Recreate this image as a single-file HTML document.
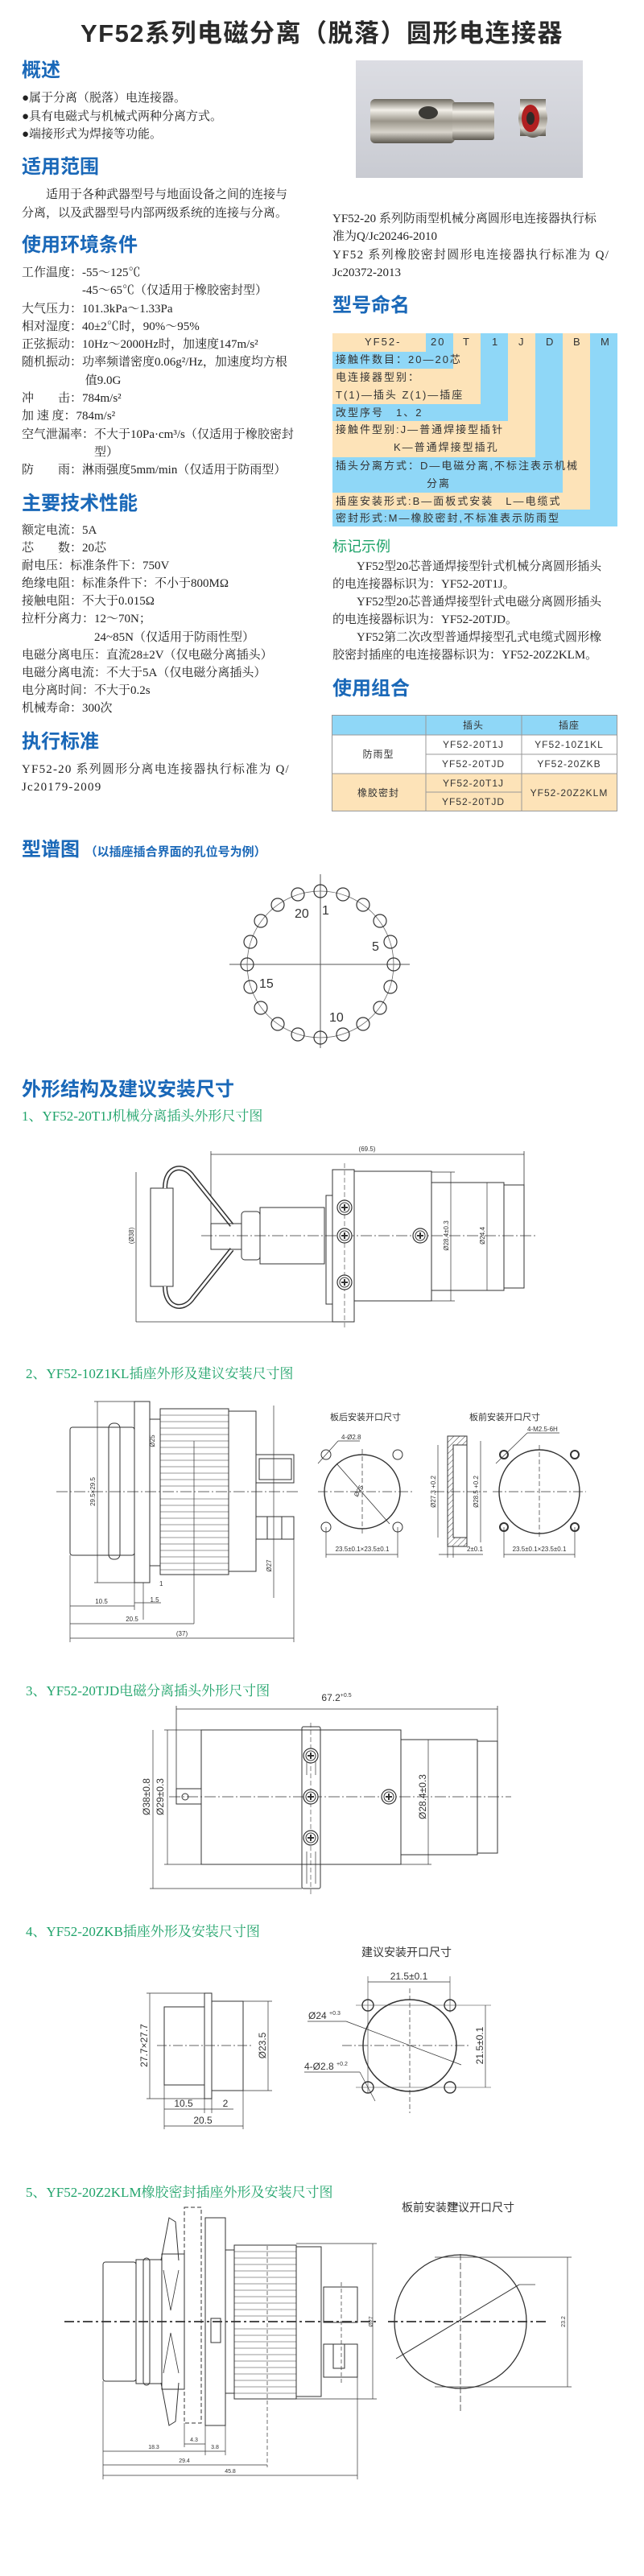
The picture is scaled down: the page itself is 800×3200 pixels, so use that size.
<!DOCTYPE html>
<html><head><meta charset="utf-8">
<style>
*{margin:0;padding:0;box-sizing:border-box}
body{width:800px;height:3200px;background:#fff;position:relative;overflow:hidden;font-family:"Liberation Serif","Noto Serif CJK SC",serif;color:#222}
.a{position:absolute;white-space:nowrap}
.h{position:absolute;font-family:"Liberation Sans","Noto Sans CJK SC",sans-serif;font-weight:bold;color:#1a68b8;font-size:24px;line-height:30px;white-space:nowrap}
.g{position:absolute;color:#1fa36a;font-size:17px;line-height:22px;white-space:nowrap}
.t{font-size:15px}
.n{position:absolute;font-family:"Liberation Sans","Noto Sans CJK SC",sans-serif;font-size:13px;letter-spacing:2px;color:#333;line-height:22px;white-space:nowrap}
svg text{font-family:"Liberation Sans",sans-serif;fill:#333}
</style></head><body>

<div class="a" style="left:0;width:800px;top:24px;text-align:center;font-family:'Liberation Sans','Noto Sans CJK SC',sans-serif;font-weight:bold;font-size:31px;line-height:36px;letter-spacing:1.5px;color:#2a2a2a">YF52系列电磁分离（脱落）圆形电连接器</div>

<!-- left column -->
<div class="h" style="left:27px;top:73px">概述</div>
<div class="a t" style="left:27px;top:111px;line-height:22.5px">●属于分离（脱落）电连接器。<br>●具有电磁式与机械式两种分离方式。<br>●端接形式为焊接等功能。</div>
<div class="h" style="left:27px;top:193px">适用范围</div>
<div class="a t" style="left:27px;top:231px;line-height:23px">　　适用于各种武器型号与地面设备之间的连接与<br>分离，以及武器型号内部两级系统的连接与分离。</div>
<div class="h" style="left:27px;top:290px">使用环境条件</div>
<div class="a t" style="left:27px;top:328px;line-height:22.3px">工作温度：-55～125℃<br>　　　　　-45～65℃（仅适用于橡胶密封型）<br>大气压力：101.3kPa～1.33Pa<br>相对湿度：40±2℃时，90%～95%<br>正弦振动：10Hz～2000Hz时，加速度147m/s²<br>随机振动：功率频谱密度0.06g²/Hz，加速度均方根<br>　　　　　 值9.0G<br>冲　　击：784m/s²<br>加 速 度：784m/s²<br>空气泄漏率：不大于10Pa·cm³/s（仅适用于橡胶密封<br>　　　　　　型）<br>防　　雨：淋雨强度5mm/min（仅适用于防雨型）</div>
<div class="h" style="left:27px;top:611px">主要技术性能</div>
<div class="a t" style="left:27px;top:648px;line-height:22.1px">额定电流：5A<br>芯　　数：20芯<br>耐电压：标准条件下：750V<br>绝缘电阻：标准条件下：不小于800MΩ<br>接触电阻：不大于0.015Ω<br>拉杆分离力：12～70N；<br>　　　　　　24~85N（仅适用于防雨性型）<br>电磁分离电压：直流28±2V（仅电磁分离插头）<br>电磁分离电流：不大于5A（仅电磁分离插头）<br>电分离时间：不大于0.2s<br>机械寿命：300次</div>
<div class="h" style="left:27px;top:907px">执行标准</div>
<div class="a t" style="left:27px;top:945px;line-height:22px;letter-spacing:1.2px">YF52-20 系列圆形分离电连接器执行标准为 Q/<br>Jc20179-2009</div>

<!-- photo -->
<svg class="a" style="left:442px;top:75px" width="282" height="146">
<defs>
<linearGradient id="bg" x1="0" y1="0" x2="0" y2="1"><stop offset="0" stop-color="#dcdde3"/><stop offset="1" stop-color="#c9cbd2"/></linearGradient>
<linearGradient id="mt" x1="0" y1="0" x2="0" y2="1"><stop offset="0" stop-color="#6e6a60"/><stop offset=".25" stop-color="#f2efe8"/><stop offset=".5" stop-color="#9a958a"/><stop offset=".75" stop-color="#d8d4cb"/><stop offset="1" stop-color="#5c584f"/></linearGradient>
</defs>
<rect width="282" height="146" fill="url(#bg)"/>
<rect x="18" y="48" width="105" height="55" rx="6" fill="url(#mt)"/>
<rect x="120" y="52" width="52" height="47" rx="3" fill="url(#mt)"/>
<ellipse cx="90" cy="65" rx="12" ry="8" fill="#3b3a36"/>
<rect x="204" y="48" width="32" height="46" fill="url(#mt)"/>
<ellipse cx="220" cy="72" rx="18" ry="24" fill="url(#mt)"/>
<ellipse cx="217" cy="72" rx="11" ry="17" fill="#b02020"/>
<ellipse cx="217" cy="72" rx="5" ry="8" fill="#2e2a28"/>
</svg>

<!-- right column -->
<div class="a t" style="left:413px;top:261px;line-height:22.3px">YF52-20 系列防雨型机械分离圆形电连接器执行标<br>准为Q/Jc20246-2010<br><span style="letter-spacing:1.3px">YF52 系列橡胶密封圆形电连接器执行标准为 Q/</span><br>Jc20372-2013</div>
<div class="h" style="left:413px;top:365px">型号命名</div>

<div class="a" style="left:413px;top:414px;width:354px;height:240px">
 <div class="a" style="left:320px;top:0;width:34px;height:240px;background:#8fd7f7"></div>
 <div class="a" style="left:286px;top:0;width:34px;height:219px;background:#fde3b8"></div>
 <div class="a" style="left:252px;top:0;width:34px;height:198px;background:#8fd7f7"></div>
 <div class="a" style="left:218px;top:0;width:34px;height:154px;background:#fde3b8"></div>
 <div class="a" style="left:184px;top:0;width:34px;height:109px;background:#8fd7f7"></div>
 <div class="a" style="left:150px;top:0;width:34px;height:88px;background:#fde3b8"></div>
 <div class="a" style="left:116px;top:0;width:34px;height:23px;background:#8fd7f7"></div>
 <div class="a" style="left:0;top:0;width:116px;height:23px;background:#fde3b8"></div>
 <div class="a" style="left:0;top:23px;width:150px;height:21px;background:#8fd7f7"></div>
 <div class="a" style="left:0;top:44px;width:184px;height:44px;background:#fde3b8"></div>
 <div class="a" style="left:0;top:88px;width:218px;height:21px;background:#8fd7f7"></div>
 <div class="a" style="left:0;top:109px;width:252px;height:45px;background:#fde3b8"></div>
 <div class="a" style="left:0;top:154px;width:286px;height:44px;background:#8fd7f7"></div>
 <div class="a" style="left:0;top:198px;width:320px;height:21px;background:#fde3b8"></div>
 <div class="a" style="left:0;top:219px;width:354px;height:21px;background:#8fd7f7"></div>
 <div class="n" style="left:40px;top:0">YF52-</div>
 <div class="n" style="left:122px;top:0">20</div>
 <div class="n" style="left:162px;top:0">T</div>
 <div class="n" style="left:198px;top:0">1</div>
 <div class="n" style="left:231px;top:0">J</div>
 <div class="n" style="left:265px;top:0">D</div>
 <div class="n" style="left:299px;top:0">B</div>
 <div class="n" style="left:333px;top:0">M</div>
 <div class="n" style="left:4px;top:22px">接触件数目：20—20芯</div>
 <div class="n" style="left:4px;top:44px">电连接器型别：</div>
 <div class="n" style="left:4px;top:66px">T(1)—插头 Z(1)—插座</div>
 <div class="n" style="left:4px;top:88px">改型序号　1、2</div>
 <div class="n" style="left:4px;top:109px">接触件型别:J—普通焊接型插针</div>
 <div class="n" style="left:76px;top:131px">K—普通焊接型插孔</div>
 <div class="n" style="left:4px;top:154px">插头分离方式：D—电磁分离,不标注表示机械</div>
 <div class="n" style="left:117px;top:176px">分离</div>
 <div class="n" style="left:4px;top:198px">插座安装形式:B—面板式安装　L—电缆式</div>
 <div class="n" style="left:4px;top:219px">密封形式:M—橡胶密封,不标准表示防雨型</div>
</div>

<div class="a" style="left:413px;top:667px;color:#1fa36a;font-size:18px;line-height:24px;font-family:'Liberation Sans','Noto Sans CJK SC',sans-serif">标记示例</div>
<div class="a t" style="left:413px;top:693px;line-height:22px">　　YF52型20芯普通焊接型针式机械分离圆形插头<br>的电连接器标识为：YF52-20T1J。<br>　　YF52型20芯普通焊接型针式电磁分离圆形插头<br>的电连接器标识为：YF52-20TJD。<br>　　YF52第二次改型普通焊接型孔式电缆式圆形橡<br>胶密封插座的电连接器标识为：YF52-20Z2KLM。</div>
<div class="h" style="left:413px;top:841px">使用组合</div>

<svg class="a" style="left:412px;top:888px" width="356" height="121">
<rect x="0" y="0" width="355" height="25" fill="#8fd7f7"/>
<rect x="0" y="73" width="355" height="47" fill="#fde3b8"/>
<g stroke="#999" fill="none">
<rect x=".5" y=".5" width="354" height="119"/>
<line x1="0" y1="25" x2="355" y2="25"/><line x1="0" y1="73" x2="355" y2="73"/>
<line x1="117" y1="49" x2="355" y2="49"/><line x1="117" y1="96" x2="236" y2="96"/>
<line x1="117" y1="0" x2="117" y2="120"/><line x1="236" y1="0" x2="236" y2="120"/>
</g>
<g font-size="12" text-anchor="middle" style="font-family:'Liberation Sans','Noto Sans CJK SC',sans-serif;letter-spacing:1px">
<text x="176" y="17">插头</text><text x="295" y="17">插座</text>
<text x="58" y="53">防雨型</text><text x="58" y="101">橡胶密封</text>
<text x="176" y="41">YF52-20T1J</text><text x="295" y="41">YF52-10Z1KL</text>
<text x="176" y="65">YF52-20TJD</text><text x="295" y="65">YF52-20ZKB</text>
<text x="176" y="89">YF52-20T1J</text><text x="176" y="112">YF52-20TJD</text>
<text x="295" y="101">YF52-20Z2KLM</text>
</g>
</svg>

<!-- lower headings -->
<div class="h" style="left:27px;top:1041px">型谱图 <span style="font-size:15px">（以插座插合界面的孔位号为例）</span></div>
<div class="h" style="left:27px;top:1339px">外形结构及建议安装尺寸</div>
<div class="g" style="left:27px;top:1376px">1、YF52-20T1J机械分离插头外形尺寸图</div>
<div class="g" style="left:32px;top:1696px">2、YF52-10Z1KL插座外形及建议安装尺寸图</div>
<div class="g" style="left:32px;top:2090px">3、YF52-20TJD电磁分离插头外形尺寸图</div>
<div class="g" style="left:32px;top:2389px">4、YF52-20ZKB插座外形及安装尺寸图</div>
<div class="g" style="left:32px;top:2713px">5、YF52-20Z2KLM橡胶密封插座外形及安装尺寸图</div>

<svg class="a" style="left:0;top:0" width="800" height="3200">
<defs>
<pattern id="hat" width="5" height="5" patternUnits="userSpaceOnUse" patternTransform="rotate(45)"><line x1="0" y1="0" x2="0" y2="5" stroke="#444" stroke-width="1"/></pattern>
<g id="scr"><circle r="9" fill="#fff" stroke="#333" stroke-width="1.2"/><circle r="6" fill="none" stroke="#333"/><path d="M-4 0H4M0-4V4" stroke="#333" stroke-width="2"/></g>
</defs>
<g stroke="#333" stroke-width="1" fill="none">
<!-- pin diagram -->
<line x1="285" y1="1198" x2="509" y2="1198" stroke="#555"/>
<line x1="398" y1="1086" x2="398" y2="1302" stroke="#555"/>
<circle cx="398" cy="1198" r="91" stroke="#666" stroke-width=".8"/>
<g stroke-width="1.2">
<ellipse cx="398" cy="1107" rx="8" ry="8"/><ellipse cx="426" cy="1111" rx="8" ry="8"/><ellipse cx="451" cy="1124" rx="8" ry="8"/><ellipse cx="472" cy="1144" rx="8" ry="8"/><ellipse cx="485" cy="1170" rx="8" ry="8"/>
<ellipse cx="489" cy="1198" rx="8" ry="8"/><ellipse cx="485" cy="1226" rx="8" ry="8"/><ellipse cx="472" cy="1252" rx="8" ry="8"/><ellipse cx="451" cy="1272" rx="8" ry="8"/><ellipse cx="426" cy="1285" rx="8" ry="8"/>
<ellipse cx="398" cy="1289" rx="8" ry="8"/><ellipse cx="370" cy="1285" rx="8" ry="8"/><ellipse cx="345" cy="1272" rx="8" ry="8"/><ellipse cx="324" cy="1252" rx="8" ry="8"/><ellipse cx="311" cy="1226" rx="8" ry="8"/>
<ellipse cx="307" cy="1198" rx="8" ry="8"/><ellipse cx="311" cy="1170" rx="8" ry="8"/><ellipse cx="324" cy="1144" rx="8" ry="8"/><ellipse cx="345" cy="1124" rx="8" ry="8"/><ellipse cx="370" cy="1111" rx="8" ry="8"/>
</g>

<!-- drawing 1 -->
<line x1="262" y1="1434" x2="651" y2="1434" stroke-width=".8"/>
<line x1="262" y1="1430" x2="262" y2="1520" stroke-width=".8"/><line x1="651" y1="1430" x2="651" y2="1472" stroke-width=".8"/>
<rect x="187" y="1476" width="28" height="122"/>
<path d="M205 1476C205 1448 228 1444 240 1462L288 1522M205 1598C205 1626 228 1630 240 1612L288 1552" stroke-width="6"/>
<path d="M205 1476C205 1448 228 1444 240 1462L288 1522M205 1598C205 1626 228 1630 240 1612L288 1552" stroke="#fff" stroke-width="3"/>
<rect x="262" y="1520" width="38" height="32"/>
<rect x="300" y="1505" width="23" height="60" rx="4"/>
<rect x="323" y="1500" width="80" height="70"/>
<rect x="405" y="1485" width="8" height="135"/>
<rect x="413" y="1453" width="27" height="189"/>
<rect x="440" y="1455" width="96" height="161"/>
<rect x="536" y="1469" width="90" height="134"/>
<rect x="626" y="1472" width="25" height="128"/>
<line x1="560" y1="1456" x2="560" y2="1616" stroke-width=".7"/><line x1="536" y1="1456" x2="565" y2="1456" stroke-width=".7"/><line x1="536" y1="1616" x2="565" y2="1616" stroke-width=".7"/>
<line x1="605" y1="1469" x2="605" y2="1603" stroke-width=".7"/>
<line x1="169" y1="1456" x2="169" y2="1642" stroke-width=".8"/><line x1="169" y1="1642" x2="420" y2="1642" stroke-width=".8"/>
<line x1="250" y1="1535" x2="665" y2="1535" stroke-dasharray="14 3 2 3" stroke-width=".8"/>
<line x1="428" y1="1445" x2="428" y2="1650" stroke-dasharray="6 3" stroke-width=".6"/>

<!-- drawing 2 -->
<rect x="87" y="1773" width="80" height="159" rx="3"/>
<rect x="135" y="1768" width="14" height="169" rx="6"/>
<rect x="167" y="1741" width="19" height="225"/>
<rect x="186" y="1763" width="13" height="182"/>
<rect x="199" y="1750" width="85" height="206"/>
<g stroke-width=".6">
<path d="M199 1758H284M199 1766H284M199 1774H284M199 1782H284M199 1790H284M199 1798H284M199 1806H284M199 1814H284M199 1822H284M199 1830H284M199 1838H284M199 1846H284M199 1862H284M199 1870H284M199 1878H284M199 1886H284M199 1894H284M199 1902H284M199 1910H284M199 1918H284M199 1926H284M199 1934H284M199 1942H284M199 1950H284"/>
</g>
<rect x="284" y="1753" width="34" height="199"/>
<rect x="318" y="1807" width="47" height="35"/><rect x="322" y="1812" width="40" height="26"/>
<rect x="318" y="1884" width="47" height="28"/><rect x="332" y="1884" width="18" height="28"/>
<line x1="70" y1="1853" x2="370" y2="1853" stroke-dasharray="14 3 2 3" stroke-width=".8"/>
<line x1="121" y1="1741" x2="121" y2="1966" stroke-width=".7"/><line x1="117" y1="1741" x2="167" y2="1741" stroke-width=".7"/><line x1="117" y1="1966" x2="167" y2="1966" stroke-width=".7"/>
<line x1="340" y1="1746" x2="340" y2="1985" stroke-width=".7"/>
<line x1="87" y1="1932" x2="87" y2="2040" stroke-width=".7"/><line x1="167" y1="1966" x2="167" y2="2000" stroke-width=".7"/><line x1="178" y1="1966" x2="178" y2="2012" stroke-width=".7"/><line x1="241" y1="1790" x2="241" y2="2017" stroke-width=".7"/><line x1="365" y1="1912" x2="365" y2="2040" stroke-width=".7"/>
<line x1="87" y1="1995" x2="167" y2="1995" stroke-width=".7"/><line x1="87" y1="2017" x2="241" y2="2017" stroke-width=".7"/><line x1="87" y1="2035" x2="365" y2="2035" stroke-width=".7"/>
<line x1="167" y1="1991" x2="200" y2="1991" stroke-width=".7"/>
<!-- mid 2 -->
<ellipse cx="450" cy="1853" rx="47" ry="46" stroke-width="1.4"/>
<line x1="395" y1="1853" x2="515" y2="1853" stroke-dasharray="12 3 2 3" stroke-width=".7"/>
<line x1="450" y1="1800" x2="450" y2="1905" stroke-dasharray="6 3" stroke-width=".7"/>
<line x1="418" y1="1818" x2="484" y2="1893" stroke-width=".8"/>
<circle cx="405" cy="1807" r="6"/><circle cx="494" cy="1807" r="6"/><circle cx="405" cy="1897" r="6"/><circle cx="494" cy="1897" r="6"/>
<line x1="395" y1="1818" x2="420" y2="1790" stroke-width=".7"/><line x1="420" y1="1790" x2="447" y2="1790" stroke-width=".7"/>
<line x1="405" y1="1897" x2="405" y2="1935" stroke-width=".7"/><line x1="494" y1="1897" x2="494" y2="1935" stroke-width=".7"/><line x1="405" y1="1931" x2="494" y2="1931" stroke-width=".7"/>
<rect x="556" y="1784" width="24" height="137" fill="url(#hat)"/>
<rect x="563" y="1795" width="17" height="115" fill="#fff"/>
<line x1="544" y1="1795" x2="544" y2="1910" stroke-width=".7"/><line x1="597" y1="1790" x2="597" y2="1916" stroke-width=".7"/>
<line x1="540" y1="1853" x2="605" y2="1853" stroke-dasharray="12 3 2 3" stroke-width=".7"/>
<line x1="556" y1="1921" x2="556" y2="1935" stroke-width=".7"/><line x1="563" y1="1921" x2="563" y2="1935" stroke-width=".7"/><line x1="545" y1="1931" x2="600" y2="1931" stroke-width=".7"/>
<ellipse cx="670" cy="1853" rx="50" ry="52" stroke-width="1.4"/>
<line x1="612" y1="1853" x2="728" y2="1853" stroke-dasharray="12 3 2 3" stroke-width=".7"/>
<line x1="670" y1="1795" x2="670" y2="1910" stroke-dasharray="6 3" stroke-width=".7"/>
<circle cx="626" cy="1807" r="5" stroke-width="2"/><circle cx="714" cy="1807" r="5" stroke-width="2"/><circle cx="626" cy="1897" r="5" stroke-width="2"/><circle cx="714" cy="1897" r="5" stroke-width="2"/>
<line x1="616" y1="1818" x2="655" y2="1780" stroke-width=".7"/><line x1="655" y1="1780" x2="695" y2="1780" stroke-width=".7"/>
<line x1="626" y1="1897" x2="626" y2="1935" stroke-width=".7"/><line x1="714" y1="1897" x2="714" y2="1935" stroke-width=".7"/><line x1="626" y1="1931" x2="714" y2="1931" stroke-width=".7"/>

<!-- drawing 3 -->
<line x1="219" y1="2123" x2="618" y2="2123" stroke-width=".8"/>
<line x1="219" y1="2119" x2="219" y2="2225" stroke-width=".8"/><line x1="618" y1="2119" x2="618" y2="2163" stroke-width=".8"/>
<rect x="219" y="2222" width="31" height="19"/><circle cx="230" cy="2232" r="4"/>
<rect x="250" y="2149" width="248" height="167"/>
<rect x="375" y="2145" width="23" height="201" rx="2"/>
<line x1="381" y1="2180" x2="381" y2="2205" stroke-width=".7"/><line x1="392" y1="2180" x2="392" y2="2205" stroke-width=".7"/>
<line x1="381" y1="2300" x2="381" y2="2340" stroke-width=".7"/><line x1="392" y1="2300" x2="392" y2="2340" stroke-width=".7"/>
<rect x="498" y="2161" width="95" height="143"/>
<rect x="593" y="2163" width="25" height="139"/>
<line x1="190" y1="2149" x2="190" y2="2346" stroke-width=".7"/><line x1="186" y1="2346" x2="375" y2="2346" stroke-width=".7"/>
<line x1="208" y1="2149" x2="208" y2="2316" stroke-width=".7"/><line x1="204" y1="2149" x2="250" y2="2149" stroke-width=".7"/><line x1="204" y1="2316" x2="250" y2="2316" stroke-width=".7"/>
<line x1="532" y1="2161" x2="532" y2="2316" stroke-width=".7"/><line x1="498" y1="2316" x2="536" y2="2316" stroke-width=".7"/>
<line x1="210" y1="2232" x2="635" y2="2232" stroke-dasharray="14 3 2 3" stroke-width=".8"/>
<line x1="386" y1="2140" x2="386" y2="2355" stroke-dasharray="6 3" stroke-width=".6"/>

<!-- drawing 4 -->
<rect x="204" y="2493" width="50" height="97"/>
<rect x="254" y="2476" width="9" height="131"/>
<rect x="263" y="2486" width="39" height="111"/>
<line x1="195" y1="2541" x2="315" y2="2541" stroke-dasharray="12 3 2 3" stroke-width=".7"/>
<line x1="186" y1="2476" x2="186" y2="2607" stroke-width=".7"/><line x1="182" y1="2476" x2="254" y2="2476" stroke-width=".7"/><line x1="182" y1="2607" x2="254" y2="2607" stroke-width=".7"/>
<line x1="333" y1="2486" x2="333" y2="2597" stroke-width=".7"/><line x1="302" y1="2486" x2="338" y2="2486" stroke-width=".7"/><line x1="302" y1="2597" x2="338" y2="2597" stroke-width=".7"/>
<line x1="204" y1="2590" x2="204" y2="2645" stroke-width=".7"/><line x1="254" y1="2607" x2="254" y2="2625" stroke-width=".7"/><line x1="263" y1="2607" x2="263" y2="2625" stroke-width=".7"/><line x1="302" y1="2597" x2="302" y2="2645" stroke-width=".7"/>
<line x1="204" y1="2620" x2="290" y2="2620" stroke-width=".7"/><line x1="204" y1="2641" x2="302" y2="2641" stroke-width=".7"/>
<ellipse cx="509" cy="2541" rx="58" ry="57" stroke-width="1.5"/>
<ellipse cx="457" cy="2491" rx="7" ry="7" stroke-width="1.4"/><ellipse cx="559" cy="2491" rx="7" ry="7" stroke-width="1.4"/><ellipse cx="457" cy="2593" rx="7" ry="7" stroke-width="1.4"/><ellipse cx="559" cy="2593" rx="7" ry="7" stroke-width="1.4"/>
<line x1="425" y1="2541" x2="585" y2="2541" stroke-dasharray="12 3 2 3" stroke-width=".7"/>
<line x1="509" y1="2470" x2="509" y2="2625" stroke-dasharray="6 3" stroke-width=".7"/>
<line x1="442" y1="2491" x2="610" y2="2491" stroke-width=".6"/><line x1="442" y1="2593" x2="610" y2="2593" stroke-width=".6"/>
<line x1="457" y1="2455" x2="457" y2="2600" stroke-width=".6"/><line x1="559" y1="2455" x2="559" y2="2500" stroke-width=".6"/>
<line x1="457" y1="2462" x2="559" y2="2462" stroke-width=".7"/>
<line x1="603" y1="2491" x2="603" y2="2593" stroke-width=".7"/>
<line x1="382" y1="2511" x2="430" y2="2511" stroke-width=".7"/><line x1="430" y1="2511" x2="573" y2="2565" stroke-width=".7"/>
<line x1="378" y1="2574" x2="447" y2="2574" stroke-width=".7"/><line x1="447" y1="2574" x2="466" y2="2610" stroke-width=".7"/>

<!-- drawing 5 -->
<rect x="128" y="2810" width="41" height="148" rx="3"/>
<rect x="178" y="2805" width="8" height="158" rx="4"/>
<rect x="169" y="2807" width="32" height="154"/>
<path d="M200 2808L210 2755L218 2760L222 2808M200 2960L210 3013L218 3008L222 2960" stroke-width="1"/>
<path d="M203 2820L212 2870L222 2820M203 2948L212 2898L222 2948" stroke-width=".8"/>
<rect x="201" y="2800" width="28" height="168"/>
<rect x="229" y="2742" width="21" height="268" stroke-dasharray="5 3"/>
<rect x="255" y="2755" width="25" height="258"/>
<rect x="262" y="2880" width="12" height="30"/>
<rect x="280" y="2795" width="11" height="178"/>
<rect x="291" y="2789" width="77" height="191"/>
<path d="M291 2797H368M291 2805H368M291 2813H368M291 2821H368M291 2829H368M291 2837H368M291 2845H368M291 2853H368M291 2861H368M291 2869H368M291 2877H368M291 2893H368M291 2901H368M291 2909H368M291 2917H368M291 2925H368M291 2933H368M291 2941H368M291 2949H368M291 2957H368M291 2965H368M291 2973H368" stroke-width=".6"/>
<rect x="368" y="2791" width="31" height="186"/>
<rect x="402" y="2841" width="42" height="44"/><rect x="402" y="2912" width="42" height="41"/><rect x="414" y="2912" width="14" height="30"/>
<line x1="80" y1="2884" x2="470" y2="2884" stroke-dasharray="12 4 3 4" stroke-width="1.8"/>
<line x1="332" y1="2790" x2="332" y2="3065" stroke-dasharray="5 3" stroke-width=".7"/>
<line x1="424" y1="2835" x2="424" y2="2960" stroke-dasharray="5 3" stroke-width=".7"/>
<line x1="463" y1="2787" x2="463" y2="2980" stroke-width=".7"/><line x1="368" y1="2787" x2="468" y2="2787" stroke-width=".7"/><line x1="368" y1="2980" x2="468" y2="2980" stroke-width=".7"/>
<line x1="128" y1="2958" x2="128" y2="3080" stroke-width=".7"/><line x1="229" y1="3010" x2="229" y2="3040" stroke-width=".7"/><line x1="255" y1="3013" x2="255" y2="3050" stroke-width=".7"/><line x1="280" y1="3013" x2="280" y2="3050" stroke-width=".7"/><line x1="444" y1="2953" x2="444" y2="3080" stroke-width=".7"/>
<line x1="229" y1="3036" x2="255" y2="3036" stroke-width=".7"/>
<line x1="128" y1="3045" x2="255" y2="3045" stroke-width=".7"/><line x1="255" y1="3045" x2="280" y2="3045" stroke-width=".7"/>
<line x1="128" y1="3062" x2="332" y2="3062" stroke-width=".7"/><line x1="128" y1="3075" x2="444" y2="3075" stroke-width=".7"/>
<ellipse cx="572" cy="2884" rx="82" ry="83" stroke-width="1.3"/>
<line x1="482" y1="2884" x2="678" y2="2884" stroke-dasharray="12 4 3 4" stroke-width="1.8"/>
<line x1="572" y1="2800" x2="572" y2="2998" stroke-dasharray="8 3" stroke-width=".8"/>
<line x1="492" y1="2930" x2="645" y2="2838" stroke-width="1"/><line x1="645" y1="2838" x2="665" y2="2838" stroke-width=".7"/>
<line x1="540" y1="2804" x2="710" y2="2804" stroke-width=".7"/><line x1="540" y1="2965" x2="710" y2="2965" stroke-width=".7"/><line x1="705" y1="2804" x2="705" y2="2965" stroke-width=".7"/>
</g>
<use href="#scr" x="428" y="1500"/><use href="#scr" x="428" y="1535"/><use href="#scr" x="428" y="1593"/><use href="#scr" x="522" y="1535"/>
<use href="#scr" x="386" y="2181"/><use href="#scr" x="386" y="2232"/><use href="#scr" x="386" y="2283"/><use href="#scr" x="483" y="2232"/>

<g font-size="16" fill="#555">
<text x="366" y="1140">20</text><text x="400" y="1136">1</text><text x="462" y="1181">5</text><text x="322" y="1227">15</text><text x="409" y="1269">10</text>
</g>
<g font-size="8">
<text x="456" y="1430" text-anchor="middle">(69.5)</text>
<text transform="translate(166,1535) rotate(-90)" text-anchor="middle">(Ø38)</text>
<text transform="translate(557,1535) rotate(-90)" text-anchor="middle">Ø28.4±0.3</text>
<text transform="translate(602,1535) rotate(-90)" text-anchor="middle">Ø24.4</text>
<text transform="translate(118,1853) rotate(-90)" text-anchor="middle">29.5×29.5</text>
<text transform="translate(337,1945) rotate(-90)" text-anchor="middle">Ø27</text>
<text transform="translate(192,1790) rotate(-90)" text-anchor="middle">Ø25</text>
<text x="126" y="1992" text-anchor="middle">10.5</text><text x="192" y="1990" text-anchor="middle">1.5</text><text x="198" y="1970">1</text>
<text x="164" y="2014" text-anchor="middle">20.5</text><text x="226" y="2032" text-anchor="middle">(37)</text>
<text x="450" y="1927" text-anchor="middle">23.5±0.1×23.5±0.1</text>
<text x="670" y="1927" text-anchor="middle">23.5±0.1×23.5±0.1</text>
<text x="580" y="1927">2±0.1</text>
<text x="424" y="1788">4-Ø2.8</text><text x="655" y="1778">4-M2.5-6H</text>
<text transform="translate(444,1860) rotate(-60)">Ø25</text>
<text transform="translate(541,1853) rotate(-90)" text-anchor="middle">Ø27.3 +0.2</text>
<text transform="translate(594,1853) rotate(-90)" text-anchor="middle">Ø28.5 +0.2</text>
<text x="556" y="2741" font-size="7">Ø24</text>
<text transform="translate(463,2884) rotate(-90)" text-anchor="middle" font-size="7">Ø27</text>
<text transform="translate(702,2884) rotate(-90)" text-anchor="middle" font-size="7">23.2</text>
<text x="191" y="3042" text-anchor="middle" font-size="7">18.3</text><text x="267" y="3042" text-anchor="middle" font-size="7">3.8</text><text x="241" y="3033" text-anchor="middle" font-size="7">4.3</text>
<text x="229" y="3059" text-anchor="middle" font-size="7">29.4</text><text x="286" y="3072" text-anchor="middle" font-size="7">45.8</text>
</g>
<g font-size="12" fill="#555">
<text x="418" y="2113" text-anchor="middle">67.2<tspan font-size="7" dy="-5">+0.5</tspan></text>
<text transform="translate(186,2232) rotate(-90)" text-anchor="middle">Ø38±0.8</text>
<text transform="translate(203,2232) rotate(-90)" text-anchor="middle">Ø29±0.3</text>
<text transform="translate(529,2232) rotate(-90)" text-anchor="middle">Ø28.4±0.3</text>
<text transform="translate(183,2541) rotate(-90)" text-anchor="middle">27.7×27.7</text>
<text transform="translate(330,2541) rotate(-90)" text-anchor="middle">Ø23.5</text>
<text x="228" y="2617" text-anchor="middle">10.5</text><text x="280" y="2617" text-anchor="middle">2</text><text x="252" y="2638" text-anchor="middle">20.5</text>
<text x="508" y="2459" text-anchor="middle">21.5±0.1</text>
<text transform="translate(600,2541) rotate(-90)" text-anchor="middle">21.5±0.1</text>
<text x="383" y="2508">Ø24 <tspan font-size="7" dy="-5">+0.3</tspan></text>
<text x="378" y="2571">4-Ø2.8 <tspan font-size="7" dy="-5">+0.2</tspan></text>
</g>
<g font-size="11" fill="#333" style="font-family:'Liberation Serif','Noto Serif CJK SC',serif">
<text x="454" y="1764" text-anchor="middle">板后安装开口尺寸</text>
<text x="627" y="1764" text-anchor="middle">板前安装开口尺寸</text>
</g>
<g font-size="14" fill="#333" style="font-family:'Liberation Serif','Noto Serif CJK SC',serif">
<text x="505" y="2430" text-anchor="middle">建议安装开口尺寸</text>
<text x="569" y="2747" text-anchor="middle">板前安装建议开口尺寸</text>
</g>
</svg>
</body></html>
